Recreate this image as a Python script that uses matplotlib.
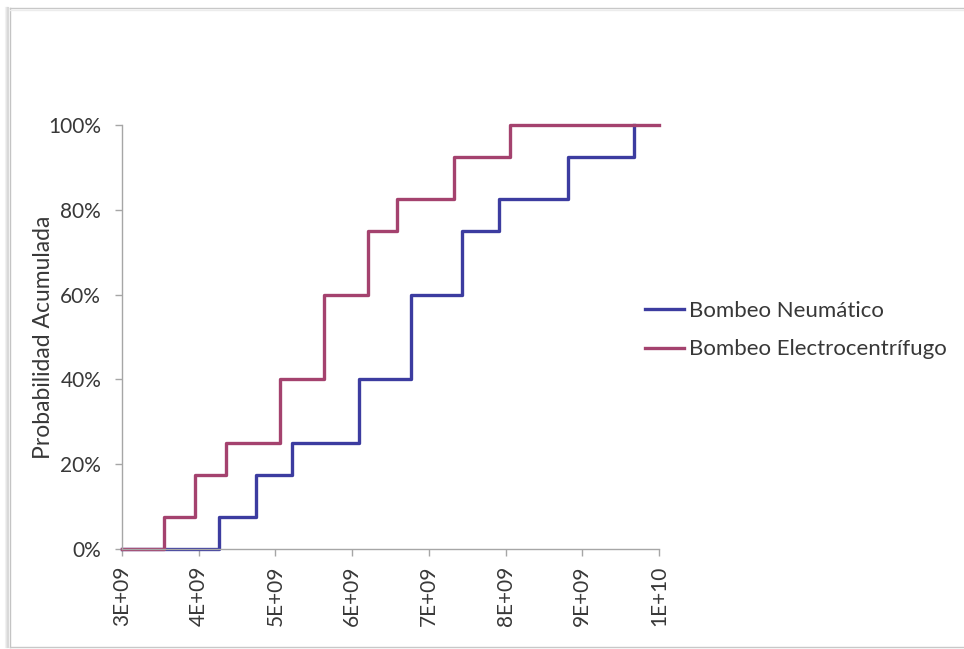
import matplotlib.pyplot as plt
from matplotlib.lines import Line2D

# step edges (x) and cumulative probability (%) after each step
neumatico_x = [3.0e9, 4.27e9, 4.74e9, 5.21e9, 6.09e9, 6.77e9, 7.43e9, 7.92e9, 8.81e9, 9.67e9]
neumatico_y = [0, 7.5, 17.5, 25, 40, 60, 75, 82.5, 92.5, 100]

electro_x = [3.0e9, 3.55e9, 3.95e9, 4.35e9, 5.06e9, 5.63e9, 6.2e9, 6.59e9, 7.33e9, 8.06e9, 1.0e10]
electro_y = [0, 7.5, 17.5, 25, 40, 60, 75, 82.5, 92.5, 100, 100]

x_ticks = [3e9, 4e9, 5e9, 6e9, 7e9, 8e9, 9e9, 1e10]
x_tick_labels = ["3E+09", "4E+09", "5E+09", "6E+09", "7E+09", "8E+09", "9E+09", "1E+10"]
y_ticks = [0, 20, 40, 60, 80, 100]
y_tick_labels = ["0%", "20%", "40%", "60%", "80%", "100%"]

series_labels = ["Bombeo Neumático", "Bombeo Electrocentrífugo"]
BLUE = "#3c3ca0"
RED = "#a4426e"
AXIS_GRAY = "#a6a6a6"
TEXT = "#383838"

plt.rcParams["font.family"] = ["Lato", "DejaVu Sans"]

fig = plt.figure(figsize=(9.64, 6.49), dpi=100)
ax = fig.add_axes([0.1266, 0.1541, 0.557, 0.6533])

ax.step(neumatico_x, neumatico_y, where="post", color=BLUE, lw=2.4, clip_on=False)
ax.step(electro_x, electro_y, where="post", color=RED, lw=2.4, clip_on=False)

ax.set_xlim(3e9, 1e10)
ax.set_ylim(0, 100)
ax.set_xticks(x_ticks)
ax.set_xticklabels(x_tick_labels, rotation=90, fontsize=15, color=TEXT)
ax.set_yticks(y_ticks)
ax.set_yticklabels(y_tick_labels, fontsize=15, color=TEXT)
ax.tick_params(axis="both", length=5, width=1, color=AXIS_GRAY, direction="out")
ax.tick_params(axis="y", pad=10)
ax.tick_params(axis="x", pad=7)

for side in ["top", "right"]:
    ax.spines[side].set_visible(False)
for side in ["left", "bottom"]:
    ax.spines[side].set_color(AXIS_GRAY)
    ax.spines[side].set_linewidth(1)

ax.set_ylabel("Probabilidad Acumulada", fontsize=16.5, color=TEXT)
ax.yaxis.set_label_coords(-0.127, 0.5)

handles = [Line2D([], [], color=BLUE, lw=2.4), Line2D([], [], color=RED, lw=2.4)]
fig.legend(
    handles,
    series_labels,
    loc="center left",
    bbox_to_anchor=(645 / 964, 1 - 330 / 649),
    frameon=False,
    fontsize=16,
    handlelength=1.75,
    handletextpad=0.25,
    labelspacing=0.85,
    borderpad=0,
    borderaxespad=0,
    labelcolor=TEXT,
)

# chart-area frame with soft shadow, like the pasted Excel object
W, H = 964, 649
for i, c in enumerate(["#f2f2f2", "#e6e6e6", "#d9d9d9"]):
    x0 = (6 + i) / W
    fig.add_artist(Line2D([x0, x0], [2 / H, 1 - 8 / H], color=c, lw=1.5, transform=fig.transFigure))
fig.add_artist(Line2D([10 / W, 10 / W], [2 / H, 1 - 8 / H], color="#c4c4c4", lw=1, transform=fig.transFigure))
fig.add_artist(Line2D([10 / W, 1], [1 - 8 / H, 1 - 8 / H], color="#c8c8c8", lw=1, transform=fig.transFigure))
fig.add_artist(Line2D([10 / W, 1], [1 - 10 / H, 1 - 10 / H], color="#ececec", lw=1, transform=fig.transFigure))
fig.add_artist(Line2D([10 / W, 1], [2 / H, 2 / H], color="#c8c8c8", lw=1, transform=fig.transFigure))

fig.savefig("out.png", dpi=100)
